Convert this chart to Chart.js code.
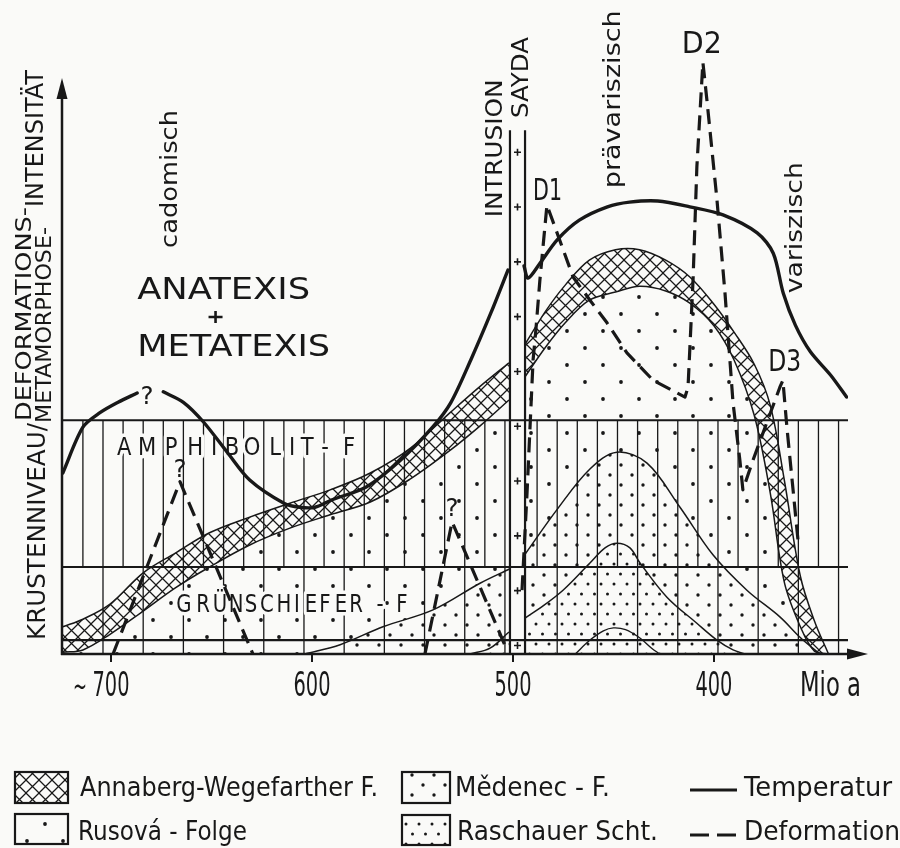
<!DOCTYPE html>
<html lang="de">
<head>
<meta charset="utf-8">
<title>Krustenniveau / Deformations- und Metamorphose-Intensität</title>
<script src="https://cdn.jsdelivr.net/npm/chart.js@4.4.1/dist/chart.umd.min.js"></script>
<style>
  html, body { margin: 0; padding: 0; background: #fafaf8; }
  #grafico { display: block; }
</style>
</head>
<body>
<canvas id="grafico" width="900" height="848"></canvas>
<script>
// Alter in Mio a, Achse läuft nach rechts zu jüngeren Altern
var tickAlter = [700, 600, 500, 400];

// Temperatur (null = Unterbrechung bei "?" und an der Intrusion)
var tempAlter = [724, 714, 705.5, 696.5, 687, 680, 674, 664, 654, 642, 631, 614, 606, 598.5, 590, 573, 556, 540, 531, 521, 511, 502.5, 498, 494.5, 492.5, 486.5, 478, 467, 453, 442, 428, 412, 395.5, 378.5, 370.5, 365.5, 359.5, 352, 342, 334];
var tempWert = [31.2, 39.1, 41.6, 43.4, 45, null, 45.2, 43.4, 40, 34.7, 30, 26, 25.3, 25.3, 26.6, 28.8, 33.4, 39.1, 43.3, 50.7, 58.8, 66.2, null, 66.9, 64.8, 67.4, 71.4, 74.8, 77.1, 77.9, 78.1, 77.1, 75.7, 72.6, 69.1, 62.2, 56.7, 52.1, 48.1, 44.3];

// Deformation (cadomisch ?, ?, D1, D2, D3)
var defAlter = [699, 665.7, 629.4, 590, 543.8, 530.3, 504, 500, 495.5, 493, 490, 488.6, 486.6, 483.1, 479.1, 470.1, 461.7, 453.2, 443.3, 430.3, 414.4, 412.9, 410.4, 408.5, 405.5, 403.5, 398.5, 394.5, 390.5, 387.1, 385.6, 380.6, 367.2, 365.7, 363.7, 358.2];
var defWert = [0, 29.7, 0, null, 0, 22.8, 1.5, null, 11, 27.8, 50.7, 55.9, 64.5, 77.4, 73.6, 65, 61, 57.1, 51.9, 47.2, 44.3, 46, 64.5, 84, 102, 95.5, 78.3, 62.2, 43.3, 33.4, 28.3, 33.4, 46, 47.2, 39.1, 19.7];

// Annaberg-Wegefarther F. links der Intrusion (Ober- und Unterkante)
var bandLinksAlter = [724, 714, 700.5, 684, 668, 651, 631, 611, 591, 571, 551, 531, 516.5, 502];
var bandLinksOben = [4.7, 6.0, 8.6, 14.0, 17.4, 20.9, 23.6, 26.0, 28.3, 31.2, 35.5, 41.7, 46.1, 50.2];
var bandLinksUnten = [0.3, 0.7, 3.4, 7.4, 11.4, 15.0, 18.8, 21.7, 24.0, 26.2, 30.2, 35.2, 39.3, 43.8];

// Annaberg-Wegefarther F. rechts der Intrusion (Kuppel)
var bandRechtsAlter = [494, 484, 474, 462, 449, 437, 424, 412, 400, 390, 380, 372, 365, 357, 350, 343];
var bandRechtsOben = [53.4, 59.0, 63.6, 67.9, 69.7, 69.7, 67.9, 65.0, 60.3, 55.5, 50.0, 42.9, 30.0, 13.4, 5.7, 0];
var bandRechtsUnten = [47.8, 52.8, 57.1, 61.0, 62.4, 63.4, 62.6, 60.5, 56.6, 50.7, 41.2, 27.8, 12.4, 4.7, 0.5, 0];

// Mědenec-F.
var medenecAlter = [603.5, 586, 564.7, 539.8, 516.4, 501.5, 498, 494, 478.1, 461.7, 448.3, 433.3, 416.9, 400.5, 383.6, 367.2, 357.2, 347.3];
var medenecWert = [0, 1.6, 4.7, 7.6, 12.2, 14.7, null, 17.2, 24.9, 31.9, 34.8, 32.9, 25.3, 17.1, 11.0, 6.4, 2.9, 0];

// Raschauer Schichten
var raschAlter = [521.4, 511.4, 502, 498, 494, 486.6, 475.1, 461.7, 454.2, 448.3, 441.8, 436.8, 423.4, 408.5, 398.5, 390.5, 384.6];
var raschWert = [0, 1.0, 3.8, null, 6.2, 7.9, 11.0, 15.7, 18.3, 19.1, 18.3, 15.7, 9.8, 5.3, 2.4, 0.7, 0];

// innerste Kuppe
var kleinAlter = [469, 461.7, 455, 450, 444, 437, 431, 427];
var kleinWert = [0, 2.4, 4.0, 4.5, 4.2, 2.8, 1.0, 0];

// Faziesgrenzen und Intrusion Sayda
var grenzeAmph = 40.3;
var grenzeGruen = 15;
var grenzeUnten = 2.4;
var intrusionAlt = 501.5;
var intrusionJung = 494;
var intrusionOben = 90.3;

var tinte = '#181818';
var papier = '#fafaf8';
var SCHRIFT = '"DejaVu Sans", "Liberation Sans", sans-serif';

var canvas = document.getElementById('grafico');
var ctx = canvas.getContext('2d');

function punkte(alter, werte) {
    return alter.map(function (a, i) { return {x: a, y: werte[i]}; });
}

function reihe(von, bis, schritt) {
    var r = [];
    for (var v = von; v >= bis; v -= schritt) r.push(v);
    return r;
}

//muster für die Flächenfüllungen
function muster(w, h, zeichne) {
    var kachel = document.createElement('canvas');
    kachel.width = w;
    kachel.height = h;
    var g = kachel.getContext('2d');
    g.fillStyle = papier;
    g.fillRect(0, 0, w, h);
    g.fillStyle = tinte;
    g.strokeStyle = tinte;
    zeichne(g, w, h);
    return ctx.createPattern(kachel, 'repeat');
}

function punkt(g, x, y, r) {
    g.beginPath();
    g.arc(x, y, r, 0, Math.PI * 2);
    g.fill();
}

var musterKreuz = muster(13, 13, function (g, s) {
    g.lineWidth = 1.25;
    g.beginPath();
    g.moveTo(-1, -1); g.lineTo(s + 1, s + 1);
    g.moveTo(s + 1, -1); g.lineTo(-1, s + 1);
    g.stroke();
});
var musterRusova = muster(36, 34, function (g) {
    punkt(g, 9, 8, 1.9);
    punkt(g, 27, 25, 1.9);
});
var musterMedenec = muster(22, 20, function (g) {
    punkt(g, 5, 5, 1.7);
    punkt(g, 16, 15, 1.7);
});
var musterRasch = muster(13, 20, function (g) {
    punkt(g, 3, 4, 1.5);
    punkt(g, 9.5, 14, 1.5);
});

// Text mit fester Breite (schmale Normschrift nachgebildet)
function schrift(c, text, x, y, groesse, breite, drehung, mitte) {
    c.save();
    c.translate(x, y);
    if (drehung) c.rotate(drehung);
    c.font = groesse + 'px ' + SCHRIFT;
    c.textAlign = 'left';
    c.textBaseline = 'alphabetic';
    var w = c.measureText(text).width;
    var sx = breite ? breite / w : 1;
    if (mitte) c.translate(-w * sx / 2, 0);
    c.scale(sx, 1);
    c.fillText(text, 0, 0);
    c.restore();
}

// gesperrte Feldbeschriftung, Schraffur wird um die Buchstaben ausgespart
function feldText(c, zeichen, x0, versatz, y, groesse, sx) {
    c.font = groesse + 'px ' + SCHRIFT;
    c.textAlign = 'center';
    c.textBaseline = 'alphabetic';
    zeichen.forEach(function (z, i) {
        c.save();
        c.translate(x0 + versatz[i], y);
        c.scale(sx, 1);
        c.strokeStyle = papier;
        c.lineWidth = 7;
        c.lineJoin = 'round';
        c.strokeText(z, 0, 0);
        c.fillStyle = tinte;
        c.fillText(z, 0, 0);
        c.restore();
    });
}

function felder(chart) {
    var c = chart.ctx, a = chart.chartArea, x = chart.scales.x, y = chart.scales.y;
    c.save();
    c.beginPath();
    c.rect(a.left, a.top, a.right - a.left, a.bottom - a.top);
    c.clip();
    c.strokeStyle = tinte;

    //senkrechte Schraffur: Amphibolit-Fazies dicht, Grünschiefer-Fazies weit
    var amph = reihe(714, 504, 10).concat(reihe(488, 338, 10));
    var gruen = reihe(704, 504, 20).concat(reihe(478, 338, 20));
    c.lineWidth = 1.3;
    c.beginPath();
    amph.forEach(function (al) {
        var px = x.getPixelForValue(al);
        c.moveTo(px, y.getPixelForValue(grenzeAmph));
        c.lineTo(px, y.getPixelForValue(grenzeGruen));
    });
    gruen.forEach(function (al) {
        var px = x.getPixelForValue(al);
        c.moveTo(px, y.getPixelForValue(grenzeGruen));
        c.lineTo(px, y.getPixelForValue(0));
    });
    c.stroke();

    // Intrusion Sayda
    var xa = x.getPixelForValue(intrusionAlt), xj = x.getPixelForValue(intrusionJung);
    var yo = y.getPixelForValue(intrusionOben), yu = y.getPixelForValue(0);
    c.fillStyle = papier;
    c.fillRect(xa, yo, xj - xa, yu - yo);

    // Faziesgrenzen
    c.lineWidth = 2.2;
    c.beginPath();
    [grenzeAmph, grenzeGruen, grenzeUnten].forEach(function (v) {
        var py = y.getPixelForValue(v);
        c.moveTo(a.left, py);
        c.lineTo(a.right, py);
    });
    c.moveTo(xa, yo); c.lineTo(xa, yu);
    c.moveTo(xj, yo); c.lineTo(xj, yu);
    c.stroke();

    // Kreuze im Granit
    var xm = (xa + xj) / 2;
    c.lineWidth = 1.6;
    c.beginPath();
    for (var py = yo + 22; py < yu; py += 54.8) {
        if (Math.abs(py - y.getPixelForValue(grenzeAmph)) < 6) continue;
        c.moveTo(xm - 3.5, py); c.lineTo(xm + 3.5, py);
        c.moveTo(xm, py - 3.5); c.lineTo(xm, py + 3.5);
    }
    c.stroke();

    feldText(c, ['A', 'M', 'P', 'H', 'I', 'B', 'O', 'L', 'I', 'T', '-', 'F'],
        x.getPixelForValue(693.5), [0, 23, 47, 71, 90, 108, 128, 151, 168, 183, 201, 225],
        y.getPixelForValue(34.3), 24, 0.88);
    feldText(c, ['G', 'R', 'Ü', 'N', 'S', 'C', 'H', 'I', 'E', 'F', 'E', 'R', '-', 'F'],
        x.getPixelForValue(663.7), [0, 19, 36, 52, 67, 83, 100, 113, 127, 141, 157, 172, 196, 218],
        y.getPixelForValue(7.2), 24, 0.82);
    c.restore();
}

function pfeil(c, x1, y1, x2, y2) {
    var w = Math.atan2(y2 - y1, x2 - x1);
    c.beginPath();
    c.moveTo(x1, y1);
    c.lineTo(x2 - 14 * Math.cos(w), y2 - 14 * Math.sin(w));
    c.stroke();
    c.beginPath();
    c.moveTo(x2, y2);
    c.lineTo(x2 - 21 * Math.cos(w) + 5.5 * Math.sin(w), y2 - 21 * Math.sin(w) - 5.5 * Math.cos(w));
    c.lineTo(x2 - 21 * Math.cos(w) - 5.5 * Math.sin(w), y2 - 21 * Math.sin(w) + 5.5 * Math.cos(w));
    c.closePath();
    c.fill();
}

function achsen(chart) {
    var c = chart.ctx, a = chart.chartArea, x = chart.scales.x, y = chart.scales.y;
    c.save();
    c.strokeStyle = tinte;
    c.fillStyle = tinte;
    c.lineWidth = 2.5;
    pfeil(c, a.left - 1, a.bottom, 868, a.bottom);
    pfeil(c, a.left, a.bottom + 1, a.left, y.getPixelForValue(99.3));

    x.ticks.forEach(function (t, i) {
        var px = x.getPixelForValue(t.value);
        schrift(c, String(t.value), px, 696, 33, 37, 0, true);
        if (i === 0) schrift(c, '~', px - 38, 696, 30, 14);
    });
    schrift(c, 'Mio a', 800, 696, 33, 61);

    // Achsentitel
    var r = -Math.PI / 2;
    schrift(c, 'KRUSTENNIVEAU/', 45, 640, 25, 217, r);
    schrift(c, 'DEFORMATIONS-', 31, 421, 22, 214, r);
    schrift(c, 'METAMORPHOSE-', 51, 423, 22, 196, r);
    schrift(c, 'INTENSITÄT', 43, 207, 25, 137, r);
    c.restore();
}

function beschriftung(chart) {
    var c = chart.ctx, x = chart.scales.x, y = chart.scales.y;
    var X = function (v) { return x.getPixelForValue(v); };
    var Y = function (v) { return y.getPixelForValue(v); };
    var r = -Math.PI / 2;
    c.save();
    c.fillStyle = tinte;
    c.strokeStyle = tinte;

    schrift(c, 'ANATEXIS', X(687), Y(61.2), 30, 173);
    schrift(c, 'METATEXIS', X(687), Y(51.4), 30, 193);
    c.lineWidth = 2.6;
    c.beginPath();
    c.moveTo(X(648) - 7, Y(58.1)); c.lineTo(X(648) + 7, Y(58.1));
    c.moveTo(X(648), Y(58.1) - 6); c.lineTo(X(648), Y(58.1) + 6);
    c.stroke();

    schrift(c, 'cadomisch', X(667.3), Y(70), 23, 138, r);
    schrift(c, 'INTRUSION', X(505.5), Y(75.3), 23, 138, r);
    schrift(c, 'SAYDA', X(492.5), Y(92.4), 23, 81, r);
    schrift(c, 'prävariszisch', X(446.8), Y(80.3), 23, 178, r);
    schrift(c, 'variszisch', X(356.2), Y(62.2), 23, 131, r);

    schrift(c, 'D1', X(490), Y(78.3), 31, 29);
    schrift(c, 'D2', X(416), Y(103.6), 30, 40);
    schrift(c, 'D3', X(373), Y(48.8), 30, 33);

    schrift(c, '?', X(682.1), Y(44.7) + 9, 25, 13, 0, true);
    schrift(c, '?', X(665.7), Y(32) + 9, 25, 13, 0, true);
    schrift(c, '?', X(530.3), Y(25.3) + 9, 25, 13, 0, true);
    c.restore();
}

function legende(chart) {
    var c = chart.ctx;
    c.save();
    c.strokeStyle = tinte;
    c.fillStyle = tinte;
    c.lineWidth = 2.2;
    [[15, 772, 53, 31, musterKreuz], [15, 814, 53, 30, musterRusova],
     [402, 772, 48, 31, musterMedenec], [402, 815, 48, 30, musterRasch]].forEach(function (k) {
        c.fillStyle = k[4];
        c.fillRect(k[0], k[1], k[2], k[3]);
        c.strokeRect(k[0], k[1], k[2], k[3]);
    });
    c.fillStyle = tinte;
    c.lineWidth = 3.2;
    c.beginPath();
    c.moveTo(690, 790); c.lineTo(737, 790);
    c.stroke();
    c.setLineDash([19, 8]);
    c.beginPath();
    c.moveTo(690, 835); c.lineTo(737, 835);
    c.stroke();
    c.setLineDash([]);

    schrift(c, 'Annaberg-Wegefarther F.', 80, 796, 27, 298);
    schrift(c, 'Rusová - Folge', 78, 840, 27, 169);
    schrift(c, 'Mědenec - F.', 455, 796, 27, 155);
    schrift(c, 'Raschauer Scht.', 457, 840, 27, 201);
    schrift(c, 'Temperatur', 744, 796, 27, 148);
    schrift(c, 'Deformation', 744, 840, 27, 156);
    c.restore();
}

var zeichenPlugin = {
    id: 'zeichen',
    beforeDraw: function (chart) {
        var c = chart.ctx;
        c.save();
        c.fillStyle = papier;
        c.fillRect(0, 0, chart.width, chart.height);
        c.restore();
    },
    beforeDatasetsDraw: function (chart) { felder(chart); },
    afterDraw: function (chart) {
        achsen(chart);
        beschriftung(chart);
        legende(chart);
    }
};

function linie(label, daten, extra) {
    var ds = {
        label: label,
        data: daten,
        borderColor: tinte,
        borderWidth: 1.5,
        pointRadius: 0,
        tension: 0.35,
        fill: false,
        spanGaps: false
    };
    Object.keys(extra || {}).forEach(function (k) { ds[k] = extra[k]; });
    return ds;
}

var myChart = new Chart(ctx, {
    type: 'line',
    data: {
        datasets: [
            linie('Temperatur', punkte(tempAlter, tempWert), {borderWidth: 3.4, tension: 0.3, borderCapStyle: 'round'}),
            linie('Deformation', punkte(defAlter, defWert), {borderWidth: 3.2, tension: 0, borderDash: [15, 8], borderJoinStyle: 'round'}),
            linie('innere Kuppe', punkte(kleinAlter, kleinWert), {borderWidth: 1.4}),
            linie('Raschauer Scht.', punkte(raschAlter, raschWert), {fill: 'origin', backgroundColor: musterRasch}),
            linie('Mědenec - F.', punkte(medenecAlter, medenecWert), {fill: 'origin', backgroundColor: musterMedenec}),
            linie('Annaberg-Wegefarther F.', punkte(bandRechtsAlter, bandRechtsOben), {fill: {target: 6}, backgroundColor: musterKreuz}),
            linie('Rusová - Folge', punkte(bandRechtsAlter, bandRechtsUnten), {fill: 'origin', backgroundColor: musterRusova}),
            linie('Annaberg-Wegefarther F.', punkte(bandLinksAlter, bandLinksOben), {fill: {target: 8}, backgroundColor: musterKreuz}),
            linie('Rusová - Folge', punkte(bandLinksAlter, bandLinksUnten), {fill: 'origin', backgroundColor: musterRusova})
        ]
    },
    options: {
        responsive: false,
        animation: false,
        events: [],
        layout: {padding: {top: 16, left: 62, right: 52, bottom: 154}},
        scales: {
            x: {
                type: 'linear',
                reverse: true,
                min: 333.3,
                max: 724.4,
                afterBuildTicks: function (s) {
                    s.ticks = tickAlter.map(function (v) { return {value: v}; });
                },
                afterFit: function (s) { s.height = 40; },
                ticks: {display: false},
                grid: {drawOnChartArea: false, drawTicks: true, tickLength: 8, color: tinte, lineWidth: 2},
                border: {display: false}
            },
            y: {display: false, min: 0, max: 110}
        },
        plugins: {
            legend: {display: false},
            tooltip: {enabled: false},
            filler: {drawTime: 'beforeDatasetsDraw'}
        }
    },
    plugins: [zeichenPlugin]
});
</script>
</body>
</html>
